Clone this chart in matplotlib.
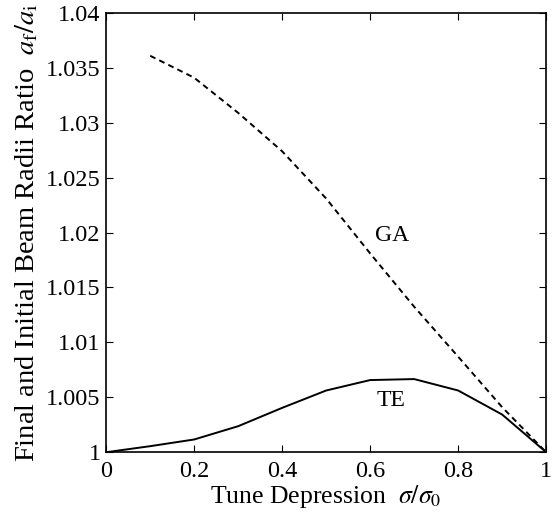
import matplotlib
matplotlib.use('Agg')
import matplotlib.pyplot as plt

# Данные
tune = [0.0, 0.1, 0.2, 0.3, 0.4, 0.5, 0.6, 0.7, 0.8, 0.9, 1.0]
ga_x = [0.1, 0.2, 0.3, 0.4, 0.5, 0.6, 0.7, 0.8, 0.9, 1.0]
ga_ratio = [1.0361, 1.0341, 1.0309, 1.0274, 1.0231, 1.0181, 1.01325, 1.0087, 1.0041, 1.0]
te_ratio = [1.0, 1.00055, 1.00116, 1.00237, 1.00404, 1.00562, 1.00657, 1.00666, 1.00562, 1.00343, 1.0]
x_ticks = [0, 0.2, 0.4, 0.6, 0.8, 1]
x_tick_labels = ['0', '0.2', '0.4', '0.6', '0.8', '1']
y_ticks = [1.0, 1.005, 1.01, 1.015, 1.02, 1.025, 1.03, 1.035, 1.04]
y_tick_labels = ['1', '1.005', '1.01', '1.015', '1.02', '1.025', '1.03', '1.035', '1.04']

plt.rcParams['font.family'] = ['Liberation Serif', 'DejaVu Serif']
plt.rcParams['mathtext.fontset'] = 'stix'

fig = plt.figure(figsize=(5.59, 5.18), dpi=100)
ax = fig.add_axes([0.19, 0.127, 0.787, 0.848])

ax.plot(ga_x, ga_ratio, color='black', linestyle=(0, (3, 2.2)), linewidth=1.4)
ax.plot(tune, te_ratio, color='black', linestyle='-', linewidth=1.4)

# Подписи кривых
ax.text(0.649, 1.0197, 'GA', fontsize=17, ha='center', va='center')
ax.text(0.647, 1.0047, 'TE', fontsize=17, ha='center', va='center')

ax.set_xlim(0, 1)
ax.set_ylim(1.0, 1.04)
ax.set_xticks(x_ticks)
ax.set_xticklabels(x_tick_labels)
ax.set_yticks(y_ticks)
ax.set_yticklabels(y_tick_labels)
ax.tick_params(direction='in', top=True, right=True, length=5, labelsize=17.5)
ax.tick_params(axis='x', pad=6)
ax.tick_params(axis='y', pad=4)
for s in ax.spines.values():
    s.set_linewidth(1.2)

ax.set_xlabel(r'Tune Depression  $\sigma/\sigma_0$', fontsize=18.5, labelpad=1)
ax.set_ylabel(r'Final and Initial Beam Radii Ratio  $a_\mathrm{f}/a_\mathrm{i}$', fontsize=20.5, labelpad=4)

plt.savefig('out.png', dpi=100)
plt.close()
